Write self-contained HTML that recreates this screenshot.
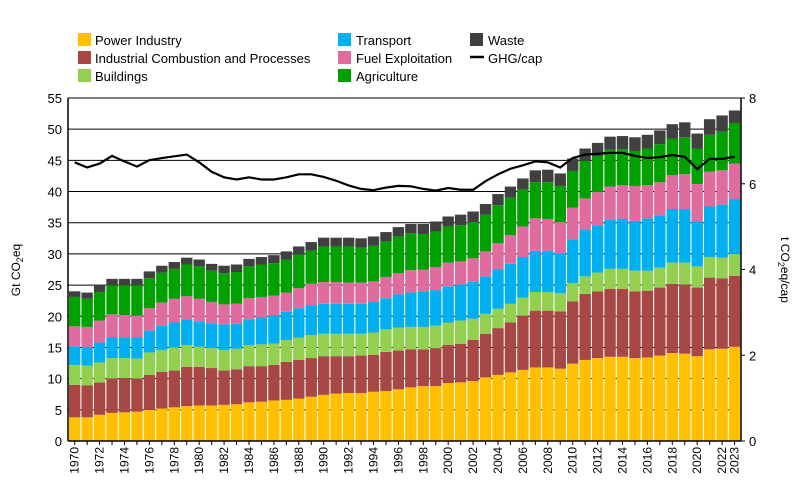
<!DOCTYPE html>
<html><head><meta charset="utf-8"><style>
body{margin:0;background:#fff;width:800px;height:493px;overflow:hidden;font-family:"Liberation Sans",sans-serif}
svg text{font-family:"Liberation Sans",sans-serif}
</style></head><body>
<svg id="c" width="800" height="493" xmlns="http://www.w3.org/2000/svg">
<g id="legend" font-size="13" fill="#000">
 <g><rect x="78" y="33" width="13" height="13" fill="#FFC000"/><text x="95" y="45">Power Industry</text></g>
 <g><rect x="78" y="51" width="13" height="13" fill="#A84744"/><text x="95" y="63">Industrial Combustion and Processes</text></g>
 <g><rect x="78" y="69" width="13" height="13" fill="#92D050"/><text x="95" y="81">Buildings</text></g>
 <g><rect x="338" y="33" width="13" height="13" fill="#00B0F0"/><text x="356" y="45">Transport</text></g>
 <g><rect x="338" y="51" width="13" height="13" fill="#E06C9F"/><text x="356" y="63">Fuel Exploitation</text></g>
 <g><rect x="338" y="69" width="13" height="13" fill="#00A000"/><text x="356" y="81">Agriculture</text></g>
 <g><rect x="470" y="33" width="13" height="13" fill="#404040"/><text x="488" y="45">Waste</text></g>
 <g><line x1="470" y1="57" x2="484" y2="57" stroke="#000" stroke-width="2.5"/><text x="488" y="63">GHG/cap</text></g>
</g>
<text transform="translate(20,270) rotate(-90)" text-anchor="middle" font-size="12">Gt CO<tspan font-size="9" dy="3">2</tspan><tspan dy="-3">eq</tspan></text>
<text transform="translate(781,270) rotate(90)" text-anchor="middle" font-size="12">t CO<tspan font-size="9" dy="3">2</tspan><tspan dy="-3">eq/cap</tspan></text>
<g id="grid"></g><g id="bars"></g><g id="axes"></g>
</svg>
<script>
const years=[];for(let y=1970;y<=2023;y++)years.push(y);
const powerTop=[3.8,3.8,4.2,4.5,4.6,4.7,5.0,5.2,5.4,5.6,5.7,5.7,5.8,5.9,6.2,6.3,6.5,6.6,6.8,7.1,7.4,7.6,7.7,7.7,7.9,8.0,8.3,8.6,8.8,8.8,9.3,9.4,9.6,10.2,10.6,11.0,11.4,11.8,11.8,11.6,12.4,13.0,13.3,13.5,13.5,13.3,13.4,13.7,14.1,14.0,13.6,14.7,14.8,15.1];
const industrialTop=[9.0,8.9,9.4,10.0,10.1,10.0,10.6,11.1,11.3,11.9,11.9,11.7,11.3,11.5,12.0,12.0,12.2,12.7,13.0,13.3,13.6,13.6,13.6,13.7,13.8,14.3,14.5,14.7,14.7,14.9,15.4,15.6,16.2,17.2,18.1,19.0,20.1,20.9,20.9,20.8,22.4,23.6,24.0,24.4,24.4,24.0,24.1,24.6,25.2,25.1,24.6,26.2,26.1,26.5];
const buildingsTop=[12.2,12.1,12.6,13.3,13.3,13.2,14.2,14.6,15.0,15.4,15.1,14.9,14.6,14.8,15.4,15.5,15.6,16.2,16.6,17.0,17.2,17.2,17.2,17.2,17.4,17.9,18.2,18.3,18.3,18.5,19.0,19.3,19.6,20.4,21.2,22.0,23.0,23.9,23.9,23.7,25.3,26.4,27.0,27.6,27.6,27.3,27.3,27.8,28.6,28.6,28.0,29.5,29.4,30.0];
const transportTop=[15.2,15.0,15.8,16.6,16.6,16.6,17.7,18.5,19.0,19.4,19.2,18.9,18.7,18.8,19.5,19.8,20.1,20.7,21.3,21.8,22.0,22.0,22.0,22.0,22.3,22.9,23.5,23.8,23.9,24.2,24.8,25.1,25.6,26.4,27.5,28.4,29.5,30.5,30.5,30.1,32.3,33.9,34.6,35.5,35.6,35.3,35.7,36.2,37.2,37.2,35.2,37.6,37.9,38.8];
const fuelTop=[18.4,18.3,19.3,20.3,20.2,20.1,21.3,22.2,22.8,23.2,22.8,22.3,21.9,22.0,22.9,23.1,23.3,23.8,24.5,25.2,25.5,25.5,25.4,25.4,25.6,26.3,26.9,27.4,27.5,27.9,28.6,28.8,29.3,30.4,31.7,33.0,34.4,35.7,35.6,35.1,37.4,38.9,39.9,40.8,41.0,40.9,41.0,41.5,42.6,42.8,41.2,43.2,43.4,44.5];
const agriTop=[23.1,22.8,23.9,25.0,25.0,25.0,26.1,27.0,27.6,28.3,28.0,27.3,26.9,27.1,28.0,28.3,28.5,29.1,29.9,30.5,31.2,31.2,31.2,31.0,31.3,32.0,32.8,33.3,33.2,33.6,34.4,34.6,35.1,36.3,37.8,39.0,40.3,41.5,41.5,40.9,43.3,44.9,45.7,46.7,46.8,46.5,46.9,47.6,48.5,48.7,46.9,49.1,49.6,51.0];
const wasteTop=[24.0,23.8,24.9,26.0,26.0,26.0,27.2,28.1,28.7,29.4,29.1,28.4,28.1,28.3,29.2,29.5,29.8,30.4,31.2,31.9,32.6,32.6,32.6,32.5,32.8,33.5,34.3,34.8,34.8,35.2,36.0,36.3,36.8,38.0,39.6,40.8,42.1,43.4,43.5,42.9,45.3,46.9,47.8,48.8,48.9,48.7,49.1,49.8,50.8,51.1,49.3,51.6,52.2,53.0];
const ghgCap=[6.5,6.38,6.47,6.65,6.52,6.40,6.55,6.60,6.64,6.68,6.50,6.28,6.15,6.10,6.15,6.10,6.10,6.15,6.22,6.22,6.16,6.07,5.96,5.88,5.85,5.91,5.95,5.94,5.88,5.84,5.90,5.86,5.86,6.06,6.22,6.35,6.43,6.52,6.50,6.38,6.60,6.68,6.70,6.72,6.72,6.65,6.60,6.62,6.67,6.63,6.34,6.58,6.58,6.63];
const yTicks=[0,5,10,15,20,25,30,35,40,45,50,55];
const y2Ticks=[0,2,4,6,8];

const NS="http://www.w3.org/2000/svg";
const X0=69,STEP=12.45,BW=11.4,YB=441,YT=98;
const y=v=>YB-(v/55)*(YB-YT);
const y2=v=>YB-(v/8)*(YB-YT);
const x=i=>X0+i*STEP;
function mk(t,a,p){const e=document.createElementNS(NS,t);for(const k in a)e.setAttribute(k,a[k]);p.appendChild(e);return e;}
const grid=document.getElementById('grid'),bars=document.getElementById('bars'),axes=document.getElementById('axes');
yTicks.forEach(t=>{
 if(t>0){const l=mk('line',{x1:68,x2:741,y1:y(t),y2:y(t),stroke:'#000','stroke-width':1},grid);
 
 }
 const tx=mk('text',{x:62,y:y(t)+5,'text-anchor':'end','font-size':13},axes);tx.textContent=t;
 
 
});
y2Ticks.forEach(t=>{
 const tx=mk('text',{x:749,y:y2(t)+5,'font-size':13},axes);tx.textContent=t;
 
 
 mk('line',{x1:741,x2:745,y1:y2(t),y2:y2(t),stroke:'#000'},axes);
});
const series=[[null,powerTop,'#FFC000','power'],[powerTop,industrialTop,'#A84744','industrial'],[industrialTop,buildingsTop,'#92D050','buildings'],[buildingsTop,transportTop,'#00B0F0','transport'],[transportTop,fuelTop,'#E06C9F','fuel'],[fuelTop,agriTop,'#00A000','agriculture'],[agriTop,wasteTop,'#404040','waste']];
years.forEach((yr,i)=>{
 series.forEach(([lo,hi,c,n])=>{
  const b=lo?lo[i]:0;
  const r=mk('rect',{x:x(i),y:y(hi[i]),width:BW,height:y(b)-y(hi[i]),fill:c},bars);
  
  
 });
 if(yr%2===0||yr===2023){
  const tx=mk('text',{transform:`translate(${x(i)+BW/2+4},447) rotate(-90)`,'text-anchor':'end','font-size':12},axes);
  tx.textContent=yr;
  
  
 }
 mk('line',{x1:x(i)+BW/2,x2:x(i)+BW/2,y1:441,y2:445,stroke:'#000'},axes);
});
const pl=mk('polyline',{points:ghgCap.map((v,i)=>(x(i)+BW/2)+','+y2(v)).join(' '),fill:'none',stroke:'#000','stroke-width':2.2},bars);


const la=mk('line',{x1:68,x2:68,y1:YT,y2:YB,stroke:'#000','stroke-width':1.5},axes);


const ra=mk('line',{x1:741,x2:741,y1:YT,y2:YB,stroke:'#000','stroke-width':1.5},axes);


const ba=mk('line',{x1:68,x2:741,y1:YB,y2:YB,stroke:'#000','stroke-width':1.5},axes);


mk('line',{x1:68,x2:741,y1:YT,y2:YT,stroke:'#000','stroke-width':1},axes);
</script>
</body></html>
